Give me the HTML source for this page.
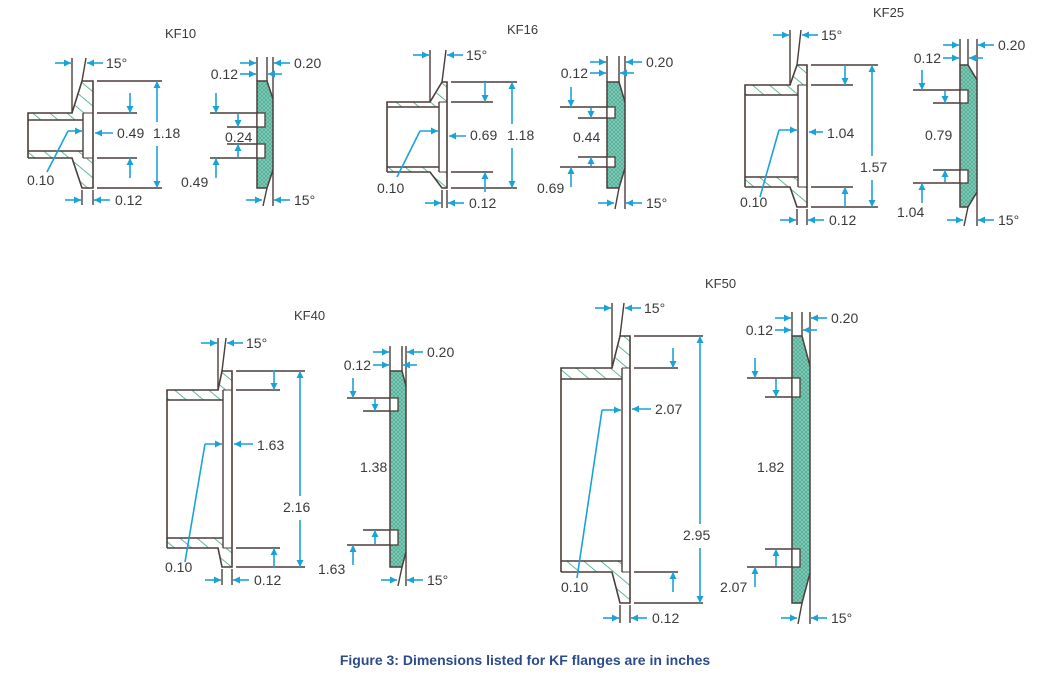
<!DOCTYPE html>
<html>
<head>
<meta charset="utf-8">
<style>
html,body{margin:0;padding:0;background:#fff;}
svg{display:block;}
text{font-family:"Liberation Sans",sans-serif;}
</style>
</head>
<body>
<svg id="fig" width="1050" height="692" viewBox="0 0 1050 692" xmlns="http://www.w3.org/2000/svg">
<defs>
<pattern id="hatch" patternUnits="userSpaceOnUse" width="11" height="11" patternTransform="rotate(-50)">
<rect width="11" height="11" fill="#fff"/>
<line x1="0" y1="0" x2="0" y2="11" stroke="#3aa58c" stroke-width="1.6"/>
</pattern>
<pattern id="xhatch" patternUnits="userSpaceOnUse" width="4" height="4">
<rect width="4" height="4" fill="#4fae96"/>
<path d="M0,0 L4,4 M4,0 L0,4" stroke="#8fd0c0" stroke-width="0.7"/>
</pattern>
</defs>
<text x="525" y="665" text-anchor="middle" font-size="14" font-weight="bold" fill="#2b4b8c">Figure 3: Dimensions listed for KF flanges are in inches</text>
</svg>
<script>
// Flange names and printed dimension values (inches)
const flangeNames = ["KF10","KF16","KF25","KF40","KF50"];
const boreValues = ["0.49","0.69","1.04","1.63","2.07"];
const flangeODValues = ["1.18","1.18","1.57","2.16","2.95"];
const ringInnerValues = ["0.24","0.44","0.79","1.38","1.82"];
const wallValue = "0.10";
const faceValue = "0.12";
const ringThkValue = "0.20";
const angleValue = "15°";

// drawing geometry (layout, not data)
const geo = [
 {title:[165,38],L:28,tT:113,tB:158,w:7,j:72,bx:82,sx:83,fx:93,fT:81,fB:188,sh:137,lo:162,as:130,al:157,lab1:[117,138],lab2:[153,138],ly:133,ld:[[47,172],[68,131]],wl:[27,185],top:63,bot:200,
  gx0:257,gx1:267,gx2:273,s:18,n:[113,127,144,158],nl1:210,nl2:227,na1:216,na2:238,gl1:[225,142],gl2:[181,187],gt1:63,gt2:74,gb:200},
 {title:[507,34],L:387,tT:102,tB:172,w:5,j:430,bx:442,sx:439,fx:447,fT:82,fB:188,sh:493,lo:517,as:485,al:512,lab1:[470,140],lab2:[507,140],ly:136,ld:[[397,177],[420,131]],wl:[377,193],top:55,bot:203,
  gx0:607,gx1:619,gx2:625,s:20,n:[107,118,157,167],nl1:560,nl2:578,na1:571,na2:591,gl1:[573,142],gl2:[537,193],gt1:62,gt2:73,gb:203},
 {title:[873,17],L:745,tT:85,tB:187,w:10,j:790,bx:797,sx:798,fx:807,fT:65,fB:207,sh:853,lo:878,as:845,al:872,lab1:[827,138],lab2:[860,172],ly:132,ld:[[760,197],[779,130]],wl:[740,207],top:35,bot:220,
  gx0:960,gx1:968,gx2:977,s:15,n:[90,103,170,183],nl1:913,nl2:933,na1:922,na2:945,gl1:[925,140],gl2:[897,217],gt1:45,gt2:58,gb:220},
 {title:[294,320],L:167,tT:390,tB:548,w:10,j:218,bx:222,sx:223,fx:232,fT:371,fB:567,sh:280,lo:305,as:274,al:300,lab1:[257,450],lab2:[283,512],ly:444,ld:[[185,562],[205,444]],wl:[165,572],top:343,bot:580,
  gx0:390,gx1:402,gx2:406,s:15,n:[398,411,530,545],nl1:347,nl2:363,na1:353,na2:375,gl1:[360,472],gl2:[318,574],gt1:352,gt2:365,gb:580},
 {title:[705,288],L:561,tT:368,tB:572,w:11,j:612,bx:620,sx:622,fx:630,fT:336,fB:603,sh:678,lo:703,as:673,al:700,lab1:[655,414],lab2:[683,540],ly:409,ld:[[577,578],[602,410]],wl:[561,592],top:308,bot:618,
  gx0:792,gx1:802,gx2:810,s:30,n:[378,397,549,567],nl1:747,nl2:765,na1:755,na2:776,gl1:[757,472],gl2:[720,592],gt1:318,gt2:330,gb:618}
];

const NS="http://www.w3.org/2000/svg";
const svg=document.getElementById('fig');
const INK="#4a3f3a", CY="#1ba3d8", TX="#3a3a3a";

function mk(tag,attrs,parent){
  const e=document.createElementNS(NS,tag);
  for(const k in attrs) e.setAttribute(k,attrs[k]);
  (parent||svg).appendChild(e);
  return e;
}
function ln(g,x1,y1,x2,y2,c,w){return mk('line',{x1,y1,x2,y2,stroke:c||INK,'stroke-width':w||1.4},g);}
function head(g,x,y,dx,dy){
  const L=7,W=3.5;
  const bx=x-dx*L,by=y-dy*L;
  const px=-dy*W,py=dx*W;
  mk('polygon',{points:`${x},${y} ${bx+px},${by+py} ${bx-px},${by-py}`,fill:CY},g);
}
function arr(g,x1,y1,x2,y2){
  ln(g,x1,y1,x2,y2,CY,1.6);
  const d=Math.hypot(x2-x1,y2-y1)||1;
  head(g,x2,y2,(x2-x1)/d,(y2-y1)/d);
}
function txt(g,x,y,s,anchor,size,weight){
  const t=mk('text',{x,y,'font-size':size||14,fill:TX,'text-anchor':anchor||'start'},g);
  if(weight) t.setAttribute('font-weight',weight);
  t.textContent=s;
  return t;
}

flangeNames.forEach((name,i)=>{
  const p=geo[i];
  const g=mk('g',{});
  
  
  const t=txt(g,p.title[0],p.title[1],name,'start',13);
  
  

  const body=mk('g',{},g);
  
  
  mk('polygon',{points:`${p.L},${p.tT} ${p.j},${p.tT} ${p.bx},${p.fT} ${p.fx},${p.fT} ${p.fx},${p.tT} ${p.sx},${p.tT} ${p.sx},${p.tT+p.w} ${p.L},${p.tT+p.w}`,fill:'url(#hatch)',stroke:'none'},body);
  mk('polygon',{points:`${p.L},${p.tB} ${p.j},${p.tB} ${p.bx},${p.fB} ${p.fx},${p.fB} ${p.fx},${p.tB} ${p.sx},${p.tB} ${p.sx},${p.tB-p.w} ${p.L},${p.tB-p.w}`,fill:'url(#hatch)',stroke:'none'},body);
  mk('polyline',{points:`${p.L},${p.tB} ${p.L},${p.tT} ${p.j},${p.tT} ${p.bx},${p.fT} ${p.fx},${p.fT} ${p.fx},${p.fB} ${p.bx},${p.fB} ${p.j},${p.tB} ${p.L},${p.tB}`,fill:'none',stroke:INK,'stroke-width':1.6},body);
  ln(body,p.L,p.tT+p.w,p.sx,p.tT+p.w);
  ln(body,p.L,p.tB-p.w,p.sx,p.tB-p.w);
  ln(body,p.sx,p.tT,p.sx,p.tB);
  ln(body,p.sx,p.tT,p.fx,p.tT,INK,1);
  ln(body,p.sx,p.tB,p.fx,p.tB,INK,1);

  ln(g,p.fx+4,p.fT,p.lo,p.fT); ln(g,p.fx+4,p.fB,p.lo,p.fB);
  ln(g,p.fx+4,p.tT,p.sh,p.tT); ln(g,p.fx+4,p.tB,p.sh,p.tB);
  arr(g,p.as,p.tT-20,p.as,p.tT);
  arr(g,p.as,p.tB+20,p.as,p.tB);
  arr(g,p.al,p.lab2[1]-16,p.al,p.fT);
  arr(g,p.al,p.lab2[1]+8,p.al,p.fB);
  const l1=txt(g,p.lab1[0],p.lab1[1],boreValues[i]);
  
  
  const l2=txt(g,p.lab2[0],p.lab2[1],flangeODValues[i]);
  
  
  arr(g,p.lab1[0]-4,p.ly,p.fx+2,p.ly);
  ln(g,p.ld[0][0],p.ld[0][1],p.ld[1][0],p.ld[1][1],CY,1.6);
  arr(g,p.ld[1][0],p.ld[1][1],p.sx-1,p.ld[1][1]);
  txt(g,p.wl[0],p.wl[1],wallValue);
  ln(g,p.j,p.top-5,p.j,p.tT);
  ln(g,p.bx,p.fT,p.bx+4,p.top-5);
  arr(g,p.j-17,p.top,p.j-1,p.top);
  arr(g,p.bx+21,p.top,p.bx+5,p.top);
  txt(g,p.bx+24,p.top+5,angleValue);
  ln(g,p.bx,p.fB+2,p.bx,p.bot+5);
  ln(g,p.fx,p.fB+2,p.fx,p.bot+5);
  arr(g,p.bx-17,p.bot,p.bx-1,p.bot);
  arr(g,p.fx+17,p.bot,p.fx+1,p.bot);
  txt(g,p.fx+22,p.bot+5,faceValue);

  const ring=mk('g',{},g);
  
  
  mk('polygon',{points:`${p.gx0},${p.fT} ${p.gx1},${p.fT} ${p.gx2},${p.fT+p.s} ${p.gx2},${p.fB-p.s} ${p.gx1},${p.fB} ${p.gx0},${p.fB}`,fill:'url(#xhatch)',stroke:INK,'stroke-width':1.5},ring);
  const nw=8;
  mk('rect',{x:p.gx0,y:p.n[0],width:nw,height:p.n[1]-p.n[0],fill:'#fff',stroke:INK,'stroke-width':1.3},ring);
  mk('rect',{x:p.gx0,y:p.n[2],width:nw,height:p.n[3]-p.n[2],fill:'#fff',stroke:INK,'stroke-width':1.3},ring);
  ln(g,p.nl1,p.n[0],p.gx0,p.n[0]); ln(g,p.nl1,p.n[3],p.gx0,p.n[3]);
  ln(g,p.nl2,p.n[1],p.gx0,p.n[1]); ln(g,p.nl2,p.n[2],p.gx0,p.n[2]);
  arr(g,p.na1,p.n[0]-20,p.na1,p.n[0]);
  arr(g,p.na1,p.n[3]+20,p.na1,p.n[3]);
  arr(g,p.na2,p.n[0]+1,p.na2,p.n[1]);
  arr(g,p.na2,p.n[3]-1,p.na2,p.n[2]);
  const gl=txt(g,p.gl1[0],p.gl1[1],ringInnerValues[i]);
  
  
  txt(g,p.gl2[0],p.gl2[1],boreValues[i]);
  ln(g,p.gx0,p.gt1-6,p.gx0,p.fT);
  ln(g,p.gx1,p.gt1-6,p.gx1,p.fT);
  ln(g,p.gx2,p.gt1-6,p.gx2,p.fT+p.s);
  arr(g,p.gx0-17,p.gt1,p.gx0-1,p.gt1);
  arr(g,p.gx2+17,p.gt1,p.gx2+1,p.gt1);
  txt(g,p.gx2+21,p.gt1+5,ringThkValue);
  arr(g,p.gx0-17,p.gt2,p.gx0-1,p.gt2);
  arr(g,p.gx1+15,p.gt2,p.gx1+1,p.gt2);
  txt(g,p.gx0-19,p.gt2+5,faceValue,'end');
  ln(g,p.gx2,p.fB-p.s,p.gx2,p.gb+6);
  ln(g,p.gx1,p.fB,p.gx1-4,p.gb+6);
  arr(g,p.gx1-21,p.gb,p.gx1-5,p.gb);
  arr(g,p.gx2+17,p.gb,p.gx2+1,p.gb);
  txt(g,p.gx2+21,p.gb+5,angleValue);
});
</script>
</body>
</html>
